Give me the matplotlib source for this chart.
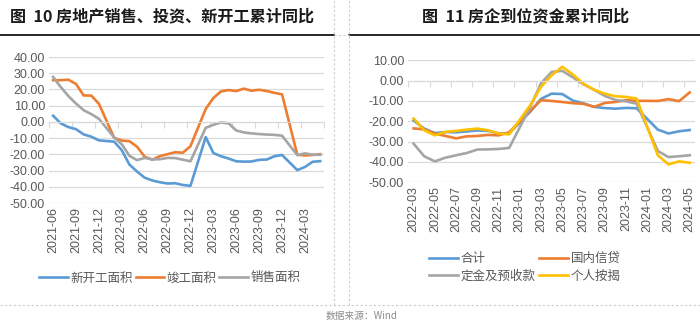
import numpy as np
import matplotlib
matplotlib.use("Agg")
import matplotlib.pyplot as plt
from matplotlib.lines import Line2D

plt.rcParams['font.family'] = ['Noto Sans CJK SC', 'DejaVu Sans']

# ---- data: left chart (2021-06 .. 2024-05), January has no value ----
months_l = []
for y, m0, m1 in [(2021, 6, 12), (2022, 1, 12), (2023, 1, 12), (2024, 1, 5)]:
    for m in range(m0, m1 + 1):
        months_l.append("%d-%02d" % (y, m))

new_start = [3.8, -0.9, -3.2, -4.5, -7.7, -9.1, -11.4, None, -12.2, -17.5, -26.3, -30.6,
             -34.4, -36.1, -37.2, -38.0, -37.8, -38.9, -39.4, None, -9.4, -19.2, -21.2, -22.6,
             -24.3, -24.5, -24.4, -23.4, -23.2, -21.2, -20.4, None, -29.7, -27.8, -24.6, -24.2]
completed = [25.7, 25.7, 26.0, 23.4, 16.3, 16.2, 11.2, None, -9.8, -11.5, -11.9, -15.3,
             -21.5, -23.3, -21.1, -19.9, -18.7, -19.0, -15.0, None, 8.0, 14.7, 18.8, 19.6,
             19.0, 20.5, 19.2, 19.8, 19.0, 17.9, 17.0, None, -20.2, -20.7, -20.4, -19.9]
sales = [27.7, 21.5, 15.9, 11.3, 7.2, 4.8, 1.9, None, -9.6, -13.8, -20.9, -23.6,
         -22.2, -23.1, -23.0, -22.2, -22.3, -23.3, -24.3, None, -3.6, -1.8, -0.4, -0.9,
         -5.3, -6.5, -7.1, -7.5, -7.8, -8.0, -8.5, None, -20.5, -19.4, -20.2, -20.3]
names_l = ["新开工面积", "竣工面积", "销售面积"]

# ---- data: right chart (2022-03 .. 2024-05) ----
months_r = months_l[9:]
funds_total = [-19.6, -23.6, -25.8, -25.3, -25.4, -25.0, -24.5, -24.7, -25.9, -25.9, None, -15.2,
               -9.0, -6.4, -6.6, -9.8, -11.2, -12.9, -13.5, -13.8, -13.4, -13.6, None, -24.1,
               -26.0, -24.9, -24.3]
loans = [-23.5, -24.0, -26.0, -27.2, -28.4, -27.4, -27.2, -26.7, -26.9, -25.4, None, -14.8,
         -9.6, -10.0, -10.5, -11.1, -11.4, -12.9, -11.0, -10.5, -9.6, -9.9, None, -10.0,
         -9.1, -10.1, -5.8]
deposits = [-31.0, -37.2, -39.7, -37.9, -36.7, -35.6, -33.9, -33.8, -33.6, -33.1, None, -12.8,
            -1.3, 4.3, 4.8, 1.6, -1.8, -4.5, -7.5, -9.5, -10.2, -11.3, None, -34.6,
            -37.6, -37.2, -36.7]
mortgage = [-18.6, -24.4, -26.9, -25.2, -24.7, -24.1, -23.6, -24.4, -26.0, -26.4, None, -12.0,
            -3.0, 2.7, 6.8, 3.0, -1.5, -4.5, -6.4, -7.7, -8.0, -8.8, None, -36.7,
            -41.2, -39.7, -40.4]
names_r = ["合计", "国内信贷", "定金及预收款", "个人按揭"]

colors = ["#5B9BD5", "#ED7D31", "#A5A5A5", "#FFC000"]
grid_c = "#D9D9D9"
text_c = "#595959"
num_font = ['Liberation Sans', 'DejaVu Sans']


def draw(ax, months, series, ylim, step, lab_every):
    x = np.arange(len(months))
    lines = []
    for vals, c in zip(series, colors):
        v = np.array([np.nan if a is None else a for a in vals])
        ok = ~np.isnan(v)
        ln, = ax.plot(x[ok], v[ok], color=c, lw=1.9, solid_joinstyle='round')
        lines.append(ln)
    ax.set_xlim(-0.5, len(months) - 0.5)
    ax.set_ylim(*ylim)
    yt = np.arange(ylim[0], ylim[1] + 0.1, 10)
    ax.set_yticks(yt)
    ax.set_yticklabels(["%.2f" % t for t in yt], color=text_c, fontsize=9, family=num_font)
    ax.tick_params(axis='y', length=0, pad=3)
    ax.grid(axis='y', color=grid_c, lw=0.9)
    ax.set_axisbelow(True)
    for s in ['top', 'right', 'left']:
        ax.spines[s].set_visible(False)
    # category axis crosses at 0, tick marks between categories
    ax.spines['bottom'].set_position(('data', 0))
    ax.spines['bottom'].set_color(grid_c)
    ax.set_xticks(np.arange(-0.5, len(months), step))
    ax.set_xticklabels([])
    ax.tick_params(axis='x', length=4, color=grid_c, direction='out')
    sec = ax.secondary_xaxis(0)
    sec.set_xticks(x[::lab_every])
    sec.set_xticklabels(months[::lab_every], rotation=90, color=text_c, fontsize=9,
                        family=num_font)
    sec.tick_params(length=0, pad=3)
    sec.spines['bottom'].set_visible(False)
    return lines


fig = plt.figure(figsize=(7, 3.28), dpi=100)

ax1 = fig.add_axes([49.3 / 700, 1 - 203 / 328, (324 - 49.3) / 700, (203 - 57) / 328])
l1 = draw(ax1, months_l, [new_start, completed, sales], (-50, 40), 3, 3)

ax2 = fig.add_axes([408.3 / 700, 1 - 182.3 / 328, (695 - 408.3) / 700, (182.3 - 60.3) / 328])
l2 = draw(ax2, months_r, [funds_total, loans, deposits, mortgage], (-50, 10), 2, 2)

# titles
fig.text(10 / 700, 1 - 16 / 328, "图  10 房地产销售、投资、新开工累计同比", fontsize=11.6,
         fontweight='bold', ha='left', va='center', color='#1a1a1a')
fig.text(526 / 700, 1 - 16 / 328, "图  11 房企到位资金累计同比", fontsize=11.6,
         fontweight='bold', ha='center', va='center', color='#1a1a1a')

# legends (right one fills row by row like the reference)
fig.legend(l1, names_l, loc='center', bbox_to_anchor=(170 / 700, 1 - 278 / 328), ncol=3,
           frameon=False, fontsize=9, handlelength=2.3, handletextpad=0.2,
           columnspacing=0.2, labelcolor=text_c)
order = [0, 2, 1, 3]
fig.legend([l2[i] for i in order], [names_r[i] for i in order], loc='center',
           bbox_to_anchor=(525 / 700, 1 - 267.5 / 328), ncol=2,
           frameon=False, fontsize=9, handlelength=2.3, handletextpad=0.2,
           columnspacing=0.3, labelspacing=0.35, labelcolor=text_c)

# frame lines
fig.add_artist(Line2D([0, 334 / 700], [1 - 35 / 328] * 2, color='black', lw=1.2))
fig.add_artist(Line2D([349 / 700, 1], [1 - 35 / 328] * 2, color='black', lw=1.2))
fig.add_artist(Line2D([334 / 700, 349 / 700], [1 - 35 / 328] * 2, color='#CCCCCC', lw=0.8, ls=(0, (2, 2))))
for xv in [334, 349]:
    fig.add_artist(Line2D([xv / 700] * 2, [1 - 305 / 328, 1], color='#CCCCCC', lw=0.8, ls=(0, (2, 2))))
fig.add_artist(Line2D([0, 1], [1 - 305 / 328] * 2, color='#CCCCCC', lw=0.8, ls=(0, (2, 2))))

fig.text(362 / 700, 1 - 316 / 328, "数据来源：Wind", fontsize=7, color='#8c8c8c',
         ha='center', va='center')

fig.savefig("out.png", dpi=100)
